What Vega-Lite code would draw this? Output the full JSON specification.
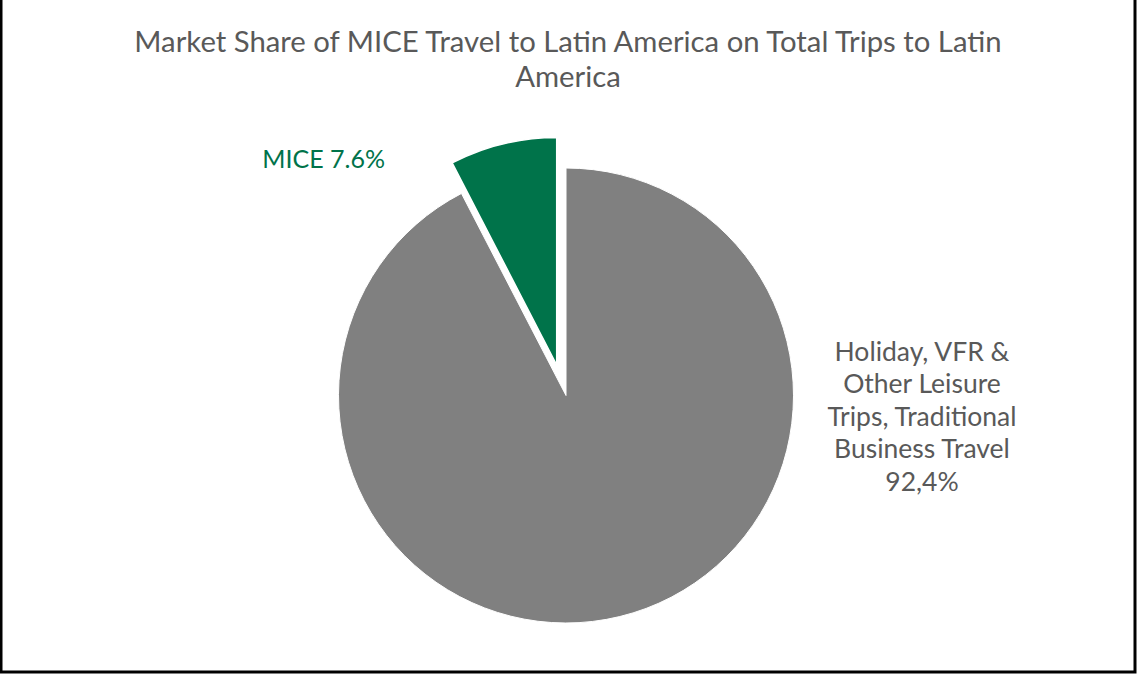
{
  "$schema": "https://vega.github.io/schema/vega-lite/v6.json",
  "autosize": {"type": "none"},
  "width": 1134,
  "height": 675,
  "padding": {"left": 1, "top": -3, "right": 2, "bottom": 3},
  "background": "white",
  "title": {
    "text": ["Market Share of MICE Travel to Latin America on Total Trips to Latin", "America"],
    "font": "Lato",
    "fontSize": 29.3,
    "fontWeight": "normal",
    "color": "#595959",
    "lineHeight": 35,
    "anchor": "middle",
    "offset": -98
  },
  "data": {
    "values": [
      {"segment": "Holiday, VFR & Other Leisure Trips, Traditional Business Travel", "share": 92.4, "ord": 1, "label": "Holiday, VFR &\nOther Leisure\nTrips, Traditional\nBusiness Travel\n92,4%"},
      {"segment": "MICE", "share": 7.6, "ord": 2, "label": "MICE 7.6%"}
    ]
  },
  "layer": [
    {
      "data": {"values": [{"frame": "border"}]},
      "mark": {"type": "rect", "fill": null, "stroke": "black", "strokeWidth": 3},
      "encoding": {}
    },
    {
      "mark": {"type": "arc", "outerRadius": 227.5, "xOffset": -2, "yOffset": 61, "stroke": "white", "strokeWidth": 1},
      "encoding": {
        "theta": {"field": "share", "type": "quantitative", "stack": true},
        "order": {"field": "ord", "type": "quantitative"},
        "color": {"field": "segment", "type": "nominal", "scale": {"domain": ["Holiday, VFR & Other Leisure Trips, Traditional Business Travel", "MICE"], "range": ["#808080", "#00734A"]}, "legend": null},
        "opacity": {"condition": {"test": "datum.segment === 'MICE'", "value": 0}, "value": 1}
      }
    },
    {
      "mark": {"type": "arc", "outerRadius": 227.5, "xOffset": -11.3, "yOffset": 30.5, "stroke": "white", "strokeWidth": 1.5},
      "encoding": {
        "theta": {"field": "share", "type": "quantitative", "stack": true},
        "order": {"field": "ord", "type": "quantitative"},
        "color": {"field": "segment", "type": "nominal", "legend": null},
        "opacity": {"condition": {"test": "datum.segment === 'MICE'", "value": 1}, "value": 0}
      }
    },
    {
      "mark": {"type": "text", "radius": 358.5, "thetaOffset": -1.4509, "xOffset": -2, "yOffset": 61, "font": "Lato", "fontSize": 26.5, "lineHeight": 32.5, "lineBreak": "\n", "align": "center", "baseline": "middle", "fill": "#595959"},
      "encoding": {
        "theta": {"field": "share", "type": "quantitative", "stack": true},
        "order": {"field": "ord", "type": "quantitative"},
        "detail": {"field": "segment", "type": "nominal"},
        "text": {"condition": {"test": "datum.segment === 'MICE'", "value": ""}, "field": "label", "type": "nominal"}
      }
    },
    {
      "mark": {"type": "text", "radius": 297, "thetaOffset": -0.4165, "xOffset": -2, "yOffset": 61, "font": "Lato", "fontSize": 25, "align": "right", "baseline": "middle", "fill": "#00734A"},
      "encoding": {
        "theta": {"field": "share", "type": "quantitative", "stack": true},
        "order": {"field": "ord", "type": "quantitative"},
        "detail": {"field": "segment", "type": "nominal"},
        "text": {"condition": {"test": "datum.segment !== 'MICE'", "value": ""}, "field": "label", "type": "nominal"}
      }
    }
  ]
}
